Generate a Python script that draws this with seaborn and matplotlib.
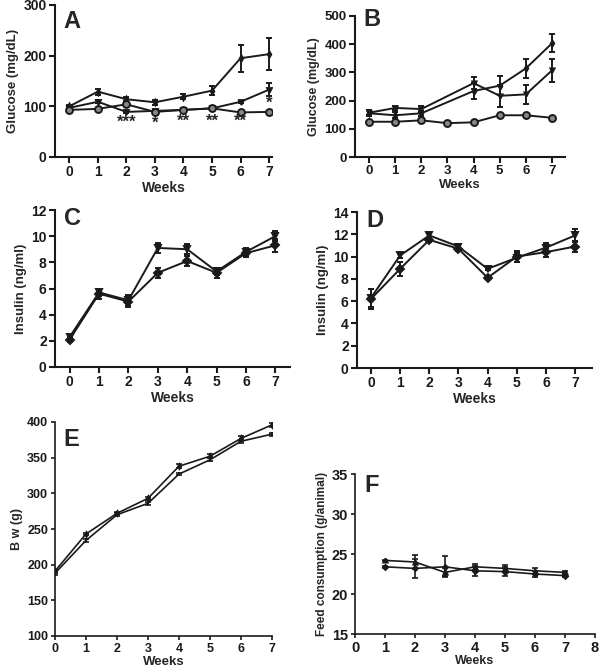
import numpy as np
import pandas as pd
import seaborn as sns
import matplotlib.pyplot as plt

sns.set_theme(style="ticks")
plt.rcParams['font.family'] = ['Liberation Sans', 'DejaVu Sans']
plt.rcParams['font.weight'] = 'bold'

weeks = [0, 1, 2, 3, 4, 5, 6, 7]
weeks_f = [1, 2, 3, 4, 5, 6, 7]

# A - glucose
gluA_1 = [100, 129, 114, 108, 119, 131, 195, 203]
gluA_1_err = [3, 6, 4, 5, 5, 9, 27, 32]
gluA_2 = [97, 109, 89, 91, 93, 96, 109, 133]
gluA_2_err = [2, 3, 2, 2, 2, 2, 2, 13]
gluA_3 = [93, 95, 104, 89, 93, 96, 88, 89]
gluA_3_err = [2, 2, 2, 2, 2, 2, 2, 2]
starsA_x = [2, 3, 4, 5, 6, 7]
starsA_y = [68, 66, 70, 70, 70, 106]
starsA_txt = ['***', '*', '**', '**', '**', '*']

# B - glucose
gluB_1 = [155, 148, 155, np.nan, 234, 253, 314, 403]
gluB_1_err = [10, 10, 8, np.nan, 28, 33, 34, 32]
gluB_2 = [157, 174, 170, np.nan, 262, 217, 222, 307]
gluB_2_err = [8, 8, 10, np.nan, 22, 38, 33, 42]
gluB_3 = [125, 125, 130, 120, 123, 148, 148, 139]
gluB_3_err = [3, 3, 3, 2, 3, 3, 3, 3]

# C - insulin
insC_1 = [2.1, 5.6, 5.0, 7.2, 8.1, 7.2, 8.7, 9.3]
insC_1_err = [0.2, 0.4, 0.4, 0.4, 0.4, 0.4, 0.3, 0.5]
insC_2 = [2.3, 5.7, 5.1, 9.1, 9.0, 7.3, 8.8, 10.0]
insC_2_err = [0.2, 0.3, 0.4, 0.4, 0.4, 0.3, 0.3, 0.4]

# D - insulin
insD_1 = [6.2, 8.9, 11.5, 10.7, 8.1, 10.0, 10.4, 10.9]
insD_1_err = [0.9, 0.6, 0.2, 0.2, 0.1, 0.5, 0.4, 0.5]
insD_2 = [6.3, 10.1, 11.9, 10.9, 8.9, 9.9, 10.8, 11.9]
insD_2_err = [0.8, 0.2, 0.2, 0.2, 0.1, 0.4, 0.4, 0.6]

# E - body weight
bwE_1 = [191, 243, 272, 293, 338, 352, 377, 396]
bwE_1_err = [2, 2, 2, 2, 3, 3, 3, 3]
bwE_2 = [188, 234, 270, 286, 327, 347, 373, 383]
bwE_2_err = [2, 2, 2, 2, 2, 2, 2, 2]

# F - feed consumption
feedF_1 = [24.2, 24.0, 22.7, 23.4, 23.2, 22.9, 22.7]
feedF_1_err = [0.1, 0.9, 0.5, 0.4, 0.4, 0.4, 0.2]
feedF_2 = [23.4, 23.2, 23.4, 22.9, 22.8, 22.5, 22.3]
feedF_2_err = [0.1, 1.2, 1.3, 0.6, 0.6, 0.4, 0.2]

W, H = 600, 672
fig = plt.figure(figsize=(6, 6.72), dpi=100)


def rect(l, t, r, b):
    return [l / W, 1 - b / H, (r - l) / W, (b - t) / H]


def draw(ax, x, y, err, marker, ms=4, lw=1.4, mfc='k'):
    df = pd.DataFrame({'x': x, 'y': y, 'e': err}).dropna()
    sns.lineplot(data=df, x='x', y='y', ax=ax, color='k', lw=lw, marker=marker,
                 markersize=ms, markerfacecolor=mfc, markeredgecolor='k',
                 markeredgewidth=1.4, errorbar=None, zorder=3)
    ax.errorbar(df['x'], df['y'], yerr=df['e'], fmt='none', ecolor='k',
                elinewidth=lw, capsize=2.5, capthick=lw, zorder=2)


def style(ax, letter, ylabel, lx, ly, tick_fs=10, lab_fs=10, spw=1.5,
          ylpad=3, tlen=4):
    for s in ['top', 'right']:
        ax.spines[s].set_visible(False)
    for s in ['left', 'bottom']:
        ax.spines[s].set_linewidth(spw)
        ax.spines[s].set_color('k')
    ax.tick_params(direction='out', length=tlen, width=spw, colors='k',
                   labelsize=tick_fs, pad=2)
    for t in ax.get_xticklabels() + ax.get_yticklabels():
        t.set_fontweight('bold')
    ax.set_xlabel('Weeks', fontsize=lab_fs, fontweight='bold', labelpad=1)
    ax.set_ylabel(ylabel, fontsize=lab_fs - 0.5, fontweight='bold', labelpad=ylpad)
    ax.text(lx, ly, letter, transform=ax.transAxes, fontsize=17,
            fontweight='bold', ha='left', va='top')


# A
axA = fig.add_axes(rect(55, 5, 272, 157))
draw(axA, weeks, gluA_1, gluA_1_err, 'd', ms=3)
draw(axA, weeks, gluA_2, gluA_2_err, 'v', ms=3.5)
draw(axA, weeks, gluA_3, gluA_3_err, 'o', ms=5, mfc='#888888')
for sx, sy, st in zip(starsA_x, starsA_y, starsA_txt):
    axA.text(sx, sy, st, ha='center', va='center', fontsize=12, fontweight='bold')
axA.set_xlim(-0.5, 7.1)
axA.set_ylim(0, 300)
axA.set_xticks(weeks)
axA.set_yticks([0, 100, 200, 300])
style(axA, 'A', 'Glucose (mg/dL)', 0.04, 0.97)

# B
axB = fig.add_axes(rect(355, 16, 565, 157))
draw(axB, weeks, gluB_1, gluB_1_err, 'd', ms=3)
draw(axB, weeks, gluB_2, gluB_2_err, 'v', ms=3)
draw(axB, weeks, gluB_3, gluB_3_err, 'o', ms=5, mfc='#888888')
axB.set_xlim(-0.54, 7.5)
axB.set_ylim(0, 500)
axB.set_xticks(weeks)
axB.set_yticks([0, 100, 200, 300, 400, 500])
style(axB, 'B', 'Glucose (mg/dL)', 0.04, 1.06, tick_fs=9.5, lab_fs=9.5)

# C
axC = fig.add_axes(rect(55, 210, 290, 367))
draw(axC, weeks, insC_1, insC_1_err, 'D', ms=4)
draw(axC, weeks, insC_2, insC_2_err, 'v', ms=5)
axC.set_xlim(-0.5, 7.5)
axC.set_ylim(0, 12)
axC.set_xticks(weeks)
axC.set_yticks([0, 2, 4, 6, 8, 10, 12])
style(axC, 'C', 'Insulin (ng/ml)', 0.04, 1.02)

# D
axD = fig.add_axes(rect(357, 212, 592, 368))
draw(axD, weeks, insD_1, insD_1_err, 'D', ms=4)
draw(axD, weeks, insD_2, insD_2_err, 'v', ms=5)
axD.set_xlim(-0.48, 7.58)
axD.set_ylim(0, 14)
axD.set_xticks(weeks)
axD.set_yticks([0, 2, 4, 6, 8, 10, 12, 14])
style(axD, 'D', 'Insulin (ng/ml)', 0.04, 1.02)

# E
axE = fig.add_axes(rect(55, 422, 272, 636))
draw(axE, weeks, bwE_1, bwE_1_err, 'd', ms=2.5, lw=1.2)
draw(axE, weeks, bwE_2, bwE_2_err, '|', ms=3, lw=1.2)
axE.set_xlim(0, 7)
axE.set_ylim(100, 400)
axE.set_xticks(weeks)
axE.set_yticks([100, 150, 200, 250, 300, 350, 400])
style(axE, 'E', 'B w (g)', 0.04, 0.97, tick_fs=9, lab_fs=9.5, spw=1.2,
      ylpad=3, tlen=3)

# F
axF = fig.add_axes(rect(355, 474, 595, 634))
draw(axF, weeks_f, feedF_1, feedF_1_err, '^', ms=3, lw=1.2)
draw(axF, weeks_f, feedF_2, feedF_2_err, 'D', ms=2.5, lw=1.2)
axF.set_xlim(0, 8)
axF.set_ylim(15, 35)
axF.set_xticks([0, 1, 2, 3, 4, 5, 6, 7, 8])
axF.set_yticks([15, 20, 25, 30, 35])
style(axF, 'F', 'Feed consumption (g/animal)', 0.04, 1.0, tick_fs=10.5,
      lab_fs=9, spw=1.2, tlen=3)
axF.xaxis.labelpad = 0

fig.savefig('out.png', dpi=100)
